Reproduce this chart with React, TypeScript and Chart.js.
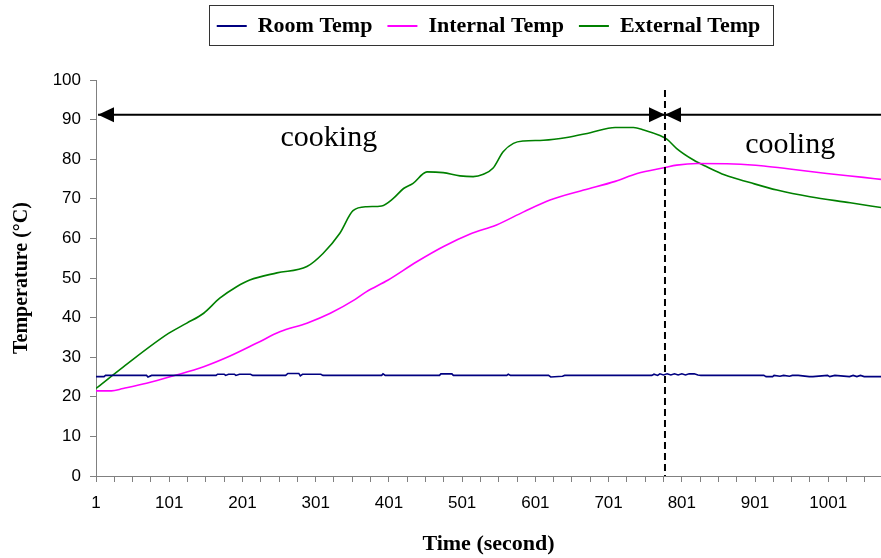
import React, { useEffect, useRef } from "react";
import { Chart, registerables } from "chart.js";

Chart.register(...registerables);

// ---- data ----
const seriesNames = ["Room Temp", "Internal Temp", "External Temp"];
const seriesColors = ["#000080", "#FF00FF", "#008000"];

const roomTime = [1, 12, 14, 70, 72, 77, 165, 167, 176, 178, 182, 190, 192, 197, 212, 215, 260, 263, 278, 280, 283, 308, 311, 391, 393, 396, 470, 472, 487, 489, 562, 564, 567, 619, 622, 638, 641, 760, 763, 768, 771, 776, 781, 786, 791, 796, 801, 806, 811, 818, 823, 827, 913, 916, 925, 927, 935, 940, 948, 952, 960, 975, 980, 1000, 1003, 1010, 1030, 1035, 1040, 1045, 1050, 1055, 1073];
const roomTemp = [25.1, 25.1, 25.4, 25.4, 25.0, 25.4, 25.4, 25.7, 25.7, 25.4, 25.7, 25.7, 25.4, 25.7, 25.7, 25.4, 25.4, 25.9, 25.9, 25.3, 25.7, 25.7, 25.4, 25.4, 25.8, 25.4, 25.4, 25.8, 25.8, 25.4, 25.4, 25.7, 25.4, 25.4, 25.0, 25.2, 25.4, 25.4, 25.7, 25.4, 25.8, 25.5, 25.8, 25.5, 25.8, 25.5, 25.8, 25.5, 25.8, 25.8, 25.5, 25.4, 25.4, 25.1, 25.1, 25.4, 25.2, 25.4, 25.2, 25.4, 25.4, 25.1, 25.1, 25.4, 25.1, 25.4, 25.1, 25.4, 25.1, 25.4, 25.1, 25.1, 25.1];

const internalTime = [1, 22, 38, 70, 107, 148, 184, 220, 252, 289, 321, 355, 370, 400, 439, 475, 512, 548, 585, 621, 667, 710, 740, 778, 794, 822, 872, 913, 954, 999, 1049, 1073];
const internalTemp = [21.5, 21.5, 22.1, 23.4, 25.3, 27.6, 30.3, 33.5, 36.4, 38.6, 41.1, 44.6, 46.5, 49.5, 54.1, 57.9, 61.1, 63.4, 66.7, 69.7, 72.2, 74.4, 76.4, 77.9, 78.5, 78.9, 78.8, 78.3, 77.4, 76.4, 75.4, 74.9];

const externalTime = [1, 38, 100, 125, 148, 170, 193, 211, 248, 289, 311, 334, 352, 371, 391, 407, 421, 434, 453, 475, 498, 516, 530, 543, 557, 571, 585, 612, 644, 676, 710, 735, 749, 772, 781, 794, 817, 835, 860, 894, 931, 976, 1031, 1073];
const externalTemp = [22.1, 27.5, 36.0, 38.6, 41.1, 44.9, 47.8, 49.5, 51.3, 52.9, 56.2, 61.3, 67.0, 68.0, 68.2, 70.1, 72.6, 73.9, 76.8, 76.6, 75.8, 75.6, 76.2, 77.7, 81.9, 84.0, 84.6, 84.8, 85.5, 86.7, 88.0, 88.0, 87.4, 85.9, 85.0, 82.7, 79.8, 78.1, 76.0, 74.1, 72.2, 70.5, 69.0, 67.8];

const xLabelValues = [1, 101, 201, 301, 401, 501, 601, 701, 801, 901, 1001];
const X_MIN = 1;
const X_MAX = 1073;
const X_MINOR_STEP = 25;

// annotations
const phaseSplit = 778;
const arrowLevel = 91.2;
const dashTop = 97.5;
const phaseLabels = [
  { text: "cooking", x: 319, y: 83.3 },
  { text: "cooling", x: 949, y: 81.6 },
];

const SERIF = '"Liberation Serif", "Times New Roman", serif';
const SANS = '"Liberation Sans", Arial, sans-serif';

const toPoints = (xs: number[], ys: number[]) => xs.map((x, i) => ({ x, y: ys[i] }));

const legendFitPlugin = {
  id: "legendFit",
  beforeLayout(chart: any) {
    const lg = chart.legend;
    if (lg && !lg._patchedFit) {
      const orig = lg.fit.bind(lg);
      lg.fit = function () {
        orig();
        this.height += 33;
      };
      lg._patchedFit = true;
    }
  },
};

const legendBoxPlugin = {
  id: "legendBox",
  afterDraw(chart: any) {
    const lg = chart.legend;
    if (!lg || !lg.legendHitBoxes || !lg.legendHitBoxes.length) return;
    const hb = lg.legendHitBoxes;
    const left = Math.min(...hb.map((h: any) => h.left)) - 8;
    const right = Math.max(...hb.map((h: any) => h.left + h.width)) + 12;
    const cy = hb[0].top + hb[0].height / 2;
    const ctx = chart.ctx;
    ctx.save();
    ctx.strokeStyle = "#333";
    ctx.lineWidth = 1;
    ctx.strokeRect(Math.round(left) + 0.5, Math.round(cy - 21) + 0.5, Math.round(right - left), 40);
    ctx.restore();
  },
};

const annotationPlugin = {
  id: "phaseAnnotations",
  afterDatasetsDraw(chart: any) {
    const { ctx, chartArea, scales } = chart;
    const x = scales.x;
    const y = scales.y;
    const xs = x.getPixelForValue(phaseSplit);
    const ya = y.getPixelForValue(arrowLevel);
    const xl = x.getPixelForValue(X_MIN) + 2;
    ctx.save();
    ctx.strokeStyle = "#000";
    ctx.fillStyle = "#000";
    // dashed divider
    ctx.lineWidth = 2;
    ctx.setLineDash([7, 4]);
    ctx.beginPath();
    ctx.moveTo(xs, y.getPixelForValue(dashTop));
    ctx.lineTo(xs, chartArea.bottom);
    ctx.stroke();
    ctx.setLineDash([]);
    // arrow shafts
    ctx.lineWidth = 2;
    ctx.beginPath();
    ctx.moveTo(xl, ya);
    ctx.lineTo(chartArea.right, ya);
    ctx.stroke();
    const head = (tip: number, dir: number) => {
      ctx.beginPath();
      ctx.moveTo(tip, ya);
      ctx.lineTo(tip + dir * 16, ya - 7.5);
      ctx.lineTo(tip + dir * 16, ya + 7.5);
      ctx.closePath();
      ctx.fill();
    };
    head(xl, 1);
    head(xs, -1);
    head(xs, 1);
    // labels
    ctx.font = `30px ${SERIF}`;
    ctx.textAlign = "center";
    ctx.textBaseline = "alphabetic";
    phaseLabels.forEach((l) => {
      ctx.fillText(l.text, x.getPixelForValue(l.x), y.getPixelForValue(l.y));
    });
    ctx.restore();
  },
};

export default function App() {
  const ref = useRef<HTMLCanvasElement | null>(null);

  useEffect(() => {
    if (!ref.current) return;
    const xMinor: number[] = [];
    for (let v = X_MIN; v <= X_MAX; v += X_MINOR_STEP) xMinor.push(v);

    const series = [
      toPoints(roomTime, roomTemp),
      toPoints(internalTime, internalTemp),
      toPoints(externalTime, externalTemp),
    ];

    const chart = new Chart(ref.current, {
      type: "line",
      data: {
        datasets: series.map((data, i) => ({
          label: seriesNames[i],
          data,
          borderColor: seriesColors[i],
          backgroundColor: seriesColors[i],
          borderWidth: 1.6,
          pointRadius: 0,
          pointHoverRadius: 0,
          fill: false,
          tension: 0,
          cubicInterpolationMode: i === 0 ? "default" : "monotone",
        })),
      },
      options: {
        animation: false,
        responsive: false,
        maintainAspectRatio: false,
        events: [],
        layout: { padding: 0 },
        plugins: {
          tooltip: { enabled: false },
          legend: {
            display: true,
            position: "top",
            fullSize: false,
            labels: {
              boxWidth: 30,
              boxHeight: 2,
              padding: 15,
              color: "#000",
              font: { family: SERIF, size: 22, weight: "bold" },
              generateLabels: (c: any) =>
                Chart.defaults.plugins.legend.labels
                  .generateLabels(c)
                  .map((l: any) => ({ ...l, lineWidth: 0, fillStyle: l.strokeStyle })),
            },
          },
        },
        scales: {
          x: {
            type: "linear",
            min: X_MIN,
            max: X_MAX,
            afterBuildTicks: (scale: any) => {
              scale.ticks = xMinor.map((v) => ({ value: v }));
            },
            afterFit: (scale: any) => {
              scale.height = 82;
            },
            ticks: {
              autoSkip: false,
              maxRotation: 0,
              minRotation: 0,
              padding: 11,
              color: "#000",
              font: { family: SANS, size: 17 },
              callback: (v: any) => (xLabelValues.includes(Number(v)) ? String(v) : ""),
            },
            grid: { drawOnChartArea: false, drawTicks: true, tickLength: 6, color: "#808080" },
            border: { display: true, color: "#808080", width: 1 },
            title: {
              display: true,
              text: "Time (second)",
              color: "#000",
              font: { family: SERIF, size: 22, weight: "bold" },
              padding: { top: 0, bottom: 0 },
            },
          },
          y: {
            type: "linear",
            min: 0,
            max: 100,
            afterFit: (scale: any) => {
              scale.width = 96;
            },
            ticks: {
              stepSize: 10,
              padding: 9,
              color: "#000",
              font: { family: SANS, size: 17 },
            },
            grid: { drawOnChartArea: false, drawTicks: true, tickLength: 6, color: "#808080" },
            border: { display: true, color: "#808080", width: 1 },
            title: {
              display: true,
              text: "Temperature (°C)",
              color: "#000",
              font: { family: SERIF, size: 20, weight: "bold" },
              padding: { top: 10, bottom: 0 },
            },
          },
        },
      },
      plugins: [legendFitPlugin, legendBoxPlugin, annotationPlugin],
    } as any);

    return () => chart.destroy();
  }, []);

  return (
    <div style={{ position: "absolute", left: 0, top: 0, width: 881, height: 558, background: "#fff" }}>
      <canvas ref={ref} width={881} height={558} style={{ display: "block", width: 881, height: 558 }} />
    </div>
  );
}
